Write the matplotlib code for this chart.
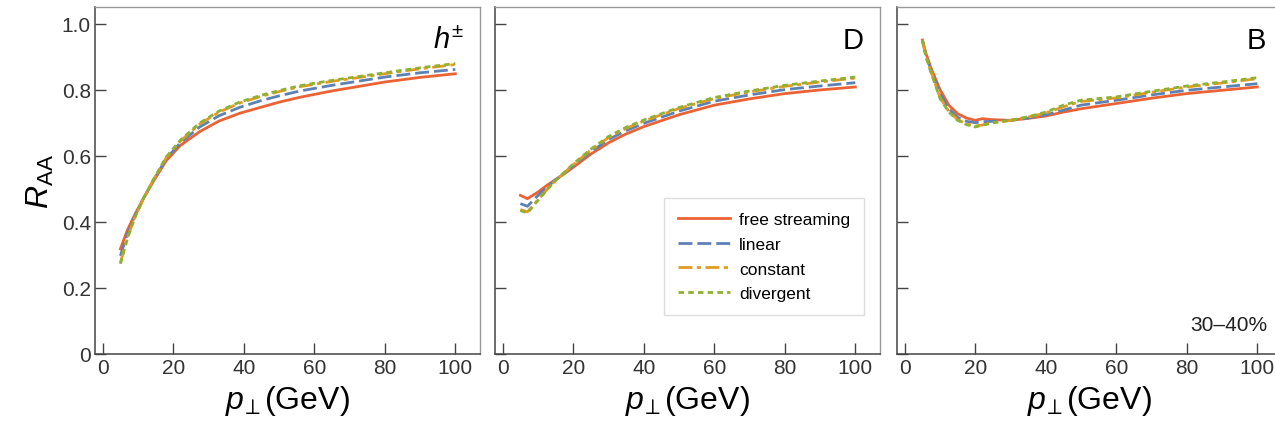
import numpy as np
import matplotlib
matplotlib.use("Agg")
import matplotlib.pyplot as plt

plt.rcParams['font.family'] = ['Liberation Sans', 'DejaVu Sans']
plt.rcParams['mathtext.fontset'] = 'custom'
plt.rcParams['mathtext.rm'] = 'Liberation Sans'
plt.rcParams['mathtext.it'] = 'Liberation Sans:italic'

# data
pt_h = [5, 7, 9, 11.5, 14.5, 18, 22, 27.5, 33, 39, 45, 50, 56, 65, 80, 90, 100]
h_free = [0.318, 0.375, 0.42, 0.47, 0.525, 0.585, 0.631, 0.673, 0.705, 0.729, 0.747, 0.762, 0.777, 0.796, 0.823, 0.837, 0.848]
h_linear = [0.297, 0.364, 0.416, 0.47, 0.528, 0.591, 0.639, 0.687, 0.721, 0.747, 0.767, 0.781, 0.796, 0.813, 0.838, 0.851, 0.861]
h_const = [0.276, 0.352, 0.411, 0.47, 0.529, 0.594, 0.644, 0.696, 0.732, 0.760, 0.780, 0.794, 0.809, 0.825, 0.848, 0.863, 0.876]
h_div = [0.273, 0.35, 0.41, 0.47, 0.53, 0.596, 0.647, 0.699, 0.735, 0.763, 0.783, 0.797, 0.812, 0.828, 0.851, 0.866, 0.879]

pt_d = [5, 7, 10, 12.5, 15, 17, 20, 25, 30, 35, 40, 50, 60, 70, 80, 90, 100]
d_free = [0.48, 0.47, 0.49, 0.51, 0.528, 0.542, 0.565, 0.605, 0.639, 0.666, 0.688, 0.724, 0.753, 0.772, 0.788, 0.799, 0.808]
d_linear = [0.455, 0.447, 0.48, 0.505, 0.527, 0.543, 0.57, 0.612, 0.649, 0.676, 0.698, 0.735, 0.765, 0.784, 0.80, 0.811, 0.821]
d_const = [0.437, 0.43, 0.467, 0.497, 0.525, 0.544, 0.573, 0.617, 0.655, 0.683, 0.705, 0.743, 0.773, 0.793, 0.81, 0.823, 0.835]
d_div = [0.434, 0.427, 0.465, 0.496, 0.525, 0.545, 0.575, 0.62, 0.658, 0.686, 0.708, 0.746, 0.776, 0.796, 0.813, 0.826, 0.838]

pt_b = [5, 6, 7.5, 10, 12.5, 15, 17.5, 20, 22, 25, 30, 35, 40, 45, 50, 60, 70, 80, 90, 100]
b_free = [0.95, 0.91, 0.864, 0.80, 0.753, 0.727, 0.714, 0.707, 0.712, 0.709, 0.707, 0.713, 0.72, 0.732, 0.742, 0.758, 0.774, 0.788, 0.798, 0.808]
b_linear = [0.95, 0.905, 0.858, 0.788, 0.742, 0.716, 0.704, 0.70, 0.703, 0.704, 0.707, 0.714, 0.724, 0.738, 0.753, 0.768, 0.784, 0.798, 0.808, 0.818]
b_const = [0.95, 0.90, 0.852, 0.776, 0.734, 0.709, 0.696, 0.69, 0.693, 0.70, 0.707, 0.717, 0.729, 0.748, 0.764, 0.775, 0.792, 0.808, 0.82, 0.833]
b_div = [0.95, 0.90, 0.85, 0.773, 0.732, 0.707, 0.694, 0.687, 0.692, 0.70, 0.707, 0.718, 0.732, 0.753, 0.768, 0.778, 0.795, 0.811, 0.823, 0.836]

labels = ['free streaming', 'linear', 'constant', 'divergent']
colors = ['#EB6235', '#5E81B5', '#E19C24', '#8FB032']
dashes = [None, (5, 1.8), (5, 1.6, 1.5, 1.6), (2.0, 1.5)]

panels = [
    (pt_h, [h_free, h_linear, h_const, h_div], r'$h^{\pm}$'),
    (pt_d, [d_free, d_linear, d_const, d_div], 'D'),
    (pt_b, [b_free, b_linear, b_const, b_div], 'B'),
]
lefts = [95, 495, 897]

fig = plt.figure(figsize=(12.75, 4.31), dpi=100)
W, H = 1275.0, 431.0
axes = []
for i, (x, ys, tag) in enumerate(panels):
    ax = fig.add_axes([lefts[i] / W, 1 - 355 / H, 385 / W, 347 / H])
    for y, lab, c, d in zip(ys, labels, colors, dashes):
        if d is None:
            ax.plot(x, y, color=c, lw=2.0, label=lab)
        else:
            ax.plot(x, y, color=c, lw=2.0, dashes=d, label=lab)
    ax.set_xlim(-2.2, 107)
    ax.set_ylim(0, 1.05)
    ax.set_xticks([0, 20, 40, 60, 80, 100])
    ax.set_yticks([0, 0.2, 0.4, 0.6, 0.8, 1.0])
    ax.set_yticklabels(['0', '0.2', '0.4', '0.6', '0.8', '1.0'])
    ax.tick_params(direction='in', length=8, width=1, color='#444444',
                   labelsize=15, labelcolor='#333333', pad=3)
    if i > 0:
        ax.tick_params(labelleft=False)
    for s in ['left', 'bottom']:
        ax.spines[s].set_color('#444444')
        ax.spines[s].set_linewidth(1.1)
    for s in ['top', 'right']:
        ax.spines[s].set_color('#999999')
        ax.spines[s].set_linewidth(1.0)
    ax.set_xlabel(r'$p_{\!\perp}$(GeV)', fontsize=23, labelpad=4)
    ax.text(0.958, 0.905, tag, transform=ax.transAxes, ha='right', va='center',
            fontsize=21)
    axes.append(ax)

axes[0].set_ylabel(r'$R_{\rm AA}$', fontsize=23, labelpad=4)
axes[2].text(0.961, 0.086, '30\u201340%', transform=axes[2].transAxes,
             ha='right', va='center', fontsize=15, color='#222222')

leg = axes[1].legend(loc='lower right', bbox_to_anchor=(0.958, 0.112),
                     borderaxespad=0, fontsize=12.5, handlelength=3.0,
                     handletextpad=0.5, labelspacing=0.55, borderpad=0.8,
                     fancybox=False, framealpha=1, edgecolor='#dddddd')

fig.savefig('out.png', dpi=100)
